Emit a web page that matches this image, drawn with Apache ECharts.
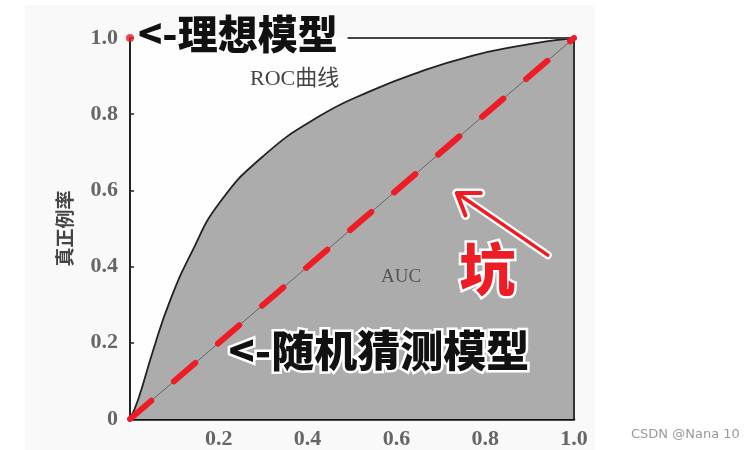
<!DOCTYPE html>
<html>
<head>
<meta charset="utf-8">
<script src="https://cdn.jsdelivr.net/npm/echarts@6/dist/echarts.min.js"></script>
<style>
html,body{margin:0;padding:0;background:#fff;}
#c{width:744px;height:450px;}
</style>
</head>
<body>
<div id="c"></div>
<script>
// ROC curve (false positive rate, true positive rate)
var rocX = [0, 0.018, 0.052, 0.09, 0.14, 0.2, 0.3, 0.427, 0.54, 0.65, 0.77, 0.88, 0.95, 1.0];
var rocY = [0, 0.05, 0.18, 0.31, 0.44, 0.565, 0.69, 0.795, 0.86, 0.91, 0.953, 0.98, 0.993, 1.0];
// random-guess diagonal
var diagX = [0, 1];
var diagY = [0, 1];
// ideal model: top edge and point
var idealX = [0.49, 1];
var idealY = [1, 1];
var idealPoint = [0, 1];
// right frame edge
var frameX = [1, 1];
var frameY = [0, 1];
// arrow annotation (tail -> tip) in data units
var arrowTail = [0.941, 0.43];
var arrowTip = [0.736, 0.593];
// tick labels
var xTickLabels = ['0.2', '0.4', '0.6', '0.8', '1.0'];
var yTickLabels = ['0', '0.2', '0.4', '0.6', '0.8', '1.0'];

function pairs(xs, ys) { return xs.map(function (x, i) { return [x, ys[i]]; }); }

var chart = echarts.init(document.getElementById('c'), null, {renderer: 'canvas'});
var serif = "'Liberation Serif','DejaVu Serif',serif";
var cjk = "'Noto Sans CJK SC','Noto Sans CJK JP',sans-serif";

var option = {
  backgroundColor: '#ffffff',
  animation: false,
  grid: {left: 130, top: 38, width: 444, height: 381, show: true, backgroundColor: '#fefefe', borderWidth: 0},
  xAxis: {
    type: 'value', min: 0, max: 1, interval: 0.2,
    axisLine: {show: true, onZero: false, lineStyle: {color: '#111', width: 2.5}},
    axisTick: {show: true, inside: true, length: 4, lineStyle: {color: '#222', width: 1.5}},
    splitLine: {show: false},
    axisLabel: {
      margin: 9, color: '#666', fontSize: 22, fontWeight: 'bold', fontFamily: serif,
      formatter: function (v) { var i = Math.round(v / 0.2) - 1; return i >= 0 ? xTickLabels[i] : ''; }
    }
  },
  yAxis: {
    type: 'value', min: 0, max: 1, interval: 0.2,
    name: '真正例率', nameLocation: 'middle', nameGap: 56, nameRotate: 90,
    nameTextStyle: {color: '#444', fontSize: 19, fontWeight: 'bold', fontFamily: cjk},
    axisLine: {show: true, onZero: false, lineStyle: {color: '#222', width: 2}},
    axisTick: {show: true, inside: true, length: 4, lineStyle: {color: '#222', width: 1.5}},
    splitLine: {show: false},
    axisLabel: {
      margin: 12, color: '#666', fontSize: 22, fontWeight: 'bold', fontFamily: serif,
      formatter: function (v) { return yTickLabels[Math.round(v / 0.2)]; }
    }
  },
  series: [
    {
      type: 'line', data: pairs(rocX, rocY), smooth: 0.5, symbol: 'none',
      lineStyle: {color: '#222', width: 1.8},
      areaStyle: {color: '#acacac', opacity: 1, origin: 'start'},
      z: 2
    },
    {
      type: 'line', data: pairs(frameX, frameY), symbol: 'none',
      lineStyle: {color: '#333', width: 2}, z: 3
    },
    {
      type: 'line', data: pairs(idealX, idealY), symbol: 'none',
      lineStyle: {color: '#444', width: 2.2}, z: 3
    },
    {
      type: 'line', data: pairs(diagX, diagY), symbol: 'none',
      lineStyle: {color: '#666', width: 1}, z: 4
    },
    {
      type: 'line', data: pairs(diagX, diagY), symbol: 'none',
      lineStyle: {color: '#ee1c24', width: 6, type: [28, 30], cap: 'round'}, z: 5
    },
    {
      type: 'scatter', data: [idealPoint], symbol: 'circle', symbolSize: 8,
      itemStyle: {color: '#ee1c24'}, z: 6
    }
  ]
};
chart.setOption(option);

var tail = chart.convertToPixel({gridIndex: 0}, arrowTail);
var tip = chart.convertToPixel({gridIndex: 0}, arrowTip);
var dx = tail[0] - tip[0], dy = tail[1] - tip[1];
var len = Math.sqrt(dx * dx + dy * dy);
var ux = dx / len, uy = dy / len;
function rot(a) {
  var c = Math.cos(a), s = Math.sin(a);
  return [tip[0] + 24 * (ux * c - uy * s), tip[1] + 24 * (ux * s + uy * c)];
}
var arm1 = rot(0.6), arm2 = rot(-0.6);

chart.setOption({
  graphic: [
    {type: 'rect', z: -10, silent: true, shape: {x: 25, y: 5, width: 570, height: 445}, style: {fill: '#f9f9f9'}},
    {type: 'text', z: 50, left: 250, top: 68, style: {text: 'ROC曲线', fill: '#444', font: "22px 'Liberation Serif','Noto Sans CJK SC',serif"}},
    {type: 'text', z: 50, left: 381, top: 268, style: {text: 'AUC', fill: '#555', font: "19px 'Liberation Serif',serif"}},
    {type: 'text', z: 60, left: 138, top: 14, style: {text: '<-理想模型', fill: '#111', font: "900 40px 'Noto Sans CJK SC',sans-serif"}},
    {type: 'text', z: 60, left: 226, top: 327, style: {text: '<-随机猜测模型', fill: '#111', font: "900 43px 'Noto Sans CJK SC',sans-serif", stroke: '#fff', lineWidth: 5}},
    {type: 'polyline', z: 58, shape: {points: [tail, tip]}, style: {stroke: '#fff', lineWidth: 8, lineCap: 'round'}},
    {type: 'polyline', z: 58, shape: {points: [arm1, tip, arm2]}, style: {stroke: '#fff', lineWidth: 9, lineCap: 'round', lineJoin: 'round', fill: null}},
    {type: 'polyline', z: 59, shape: {points: [tail, tip]}, style: {stroke: '#ee1c24', lineWidth: 3.5, lineCap: 'round'}},
    {type: 'polyline', z: 59, shape: {points: [arm1, tip, arm2]}, style: {stroke: '#ee1c24', lineWidth: 4, lineCap: 'round', lineJoin: 'round', fill: null}},
    {type: 'text', z: 60, left: 457, top: 238, style: {text: '坑', fill: '#ee1c24', font: "900 56px 'Noto Sans CJK SC',sans-serif", stroke: '#fff', lineWidth: 5}},
    {type: 'text', z: 60, left: 631, top: 428, style: {text: 'CSDN @Nana 10', fill: '#999', font: "13px 'DejaVu Sans',sans-serif"}}
  ]
});
</script>
</body>
</html>
